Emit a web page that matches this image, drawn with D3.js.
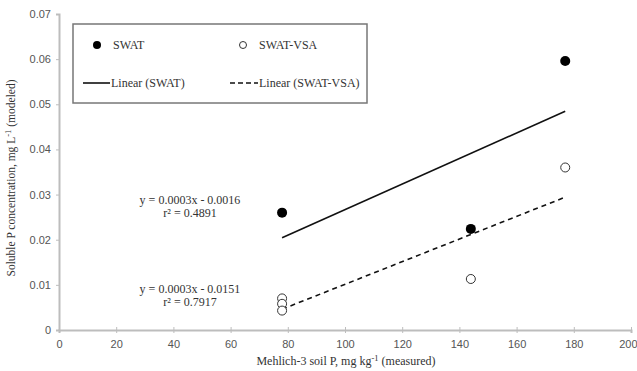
<!DOCTYPE html>
<html>
<head>
<meta charset="utf-8">
<script src="https://cdn.jsdelivr.net/npm/d3@7"></script>
<style>
  body { margin: 0; background: #fff; }
  svg { display: block; }
</style>
</head>
<body>
<svg id="chart" width="637" height="371"></svg>
<script>
// Data
const swatX = [78, 144, 177];
const swatY = [0.026, 0.0224, 0.0596];
const vsaX = [78, 78, 78, 144, 177];
const vsaY = [0.007, 0.0058, 0.0043, 0.0113, 0.036];
const xTicks = [0, 20, 40, 60, 80, 100, 120, 140, 160, 180, 200];
const yTicks = [0, 0.01, 0.02, 0.03, 0.04, 0.05, 0.06, 0.07];
const eqSwat = ['y = 0.0003x - 0.0016', 'r\u00b2 = 0.4891'];
const eqVsa = ['y = 0.0003x - 0.0151', 'r\u00b2 = 0.7917'];

const svg = d3.select('#chart');
const margin = {top: 14, right: 6, bottom: 41, left: 59};
const width = 637, height = 371;
const serif = '"Liberation Serif", "Times New Roman", serif';
const sans = '"Liberation Sans", Arial, sans-serif';

const x = d3.scaleLinear().domain([0, 200]).range([margin.left, width - margin.right]);
const y = d3.scaleLinear().domain([0, 0.07]).range([height - margin.bottom, margin.top]);

// least squares trend line, drawn over the data range
function fit(xs, ys) {
  const mx = d3.mean(xs), my = d3.mean(ys);
  let sxy = 0, sxx = 0;
  xs.forEach((v, i) => { sxy += (v - mx) * (ys[i] - my); sxx += (v - mx) ** 2; });
  const b = sxy / sxx, a = my - b * mx;
  const x0 = d3.min(xs), x1 = d3.max(xs);
  return [[x0, a + b * x0], [x1, a + b * x1]];
}

// Axes
const xAxis = svg.append('g')
  .attr('transform', `translate(0, ${y(0)})`)
  .call(d3.axisBottom(x).tickValues(xTicks).tickSize(3).tickFormat(d3.format('d')));
const yAxis = svg.append('g')
  .attr('transform', `translate(${x(0)}, 0)`)
  .call(d3.axisLeft(y).tickValues(yTicks).tickSize(3).tickFormat(d => d === 0 ? '0' : d3.format('.2f')(d)));

[xAxis, yAxis].forEach(g => {
  g.select('.domain').attr('stroke', '#bdbdbd').attr('stroke-width', 2);
  g.selectAll('.tick line').attr('stroke', '#bdbdbd').attr('stroke-width', 1);
  g.selectAll('.tick text').attr('fill', '#555').style('font-family', sans).style('font-size', '11px');
});
xAxis.selectAll('.tick line').attr('y1', -3);
xAxis.selectAll('.tick text').attr('dy', '1.05em');
// last label sits right at the window edge
xAxis.selectAll('.tick text').filter(d => d === 200).attr('text-anchor', 'end').attr('dx', 6);
yAxis.selectAll('.tick text').attr('dx', '-2');

// Trend lines
const line = d3.line().x(d => x(d[0])).y(d => y(d[1]));
svg.append('path').attr('d', line(fit(swatX, swatY)))
  .attr('fill', 'none').attr('stroke', '#111').attr('stroke-width', 1.6);
svg.append('path').attr('d', line(fit(vsaX, vsaY)))
  .attr('fill', 'none').attr('stroke', '#111').attr('stroke-width', 1.6)
  .attr('stroke-dasharray', '5,4');

// Points
svg.selectAll('.vsa').data(vsaX.map((v, i) => [v, vsaY[i]])).enter()
  .append('circle').attr('class', 'vsa')
  .attr('cx', d => x(d[0])).attr('cy', d => y(d[1])).attr('r', 4.5)
  .attr('fill', '#fff').attr('stroke', '#333').attr('stroke-width', 1);
svg.selectAll('.swat').data(swatX.map((v, i) => [v, swatY[i]])).enter()
  .append('circle').attr('class', 'swat')
  .attr('cx', d => x(d[0])).attr('cy', d => y(d[1])).attr('r', 5)
  .attr('fill', '#000');

// Equations
function equation(lines, cx, cy) {
  svg.append('text')
    .attr('x', cx).attr('y', cy)
    .attr('text-anchor', 'middle')
    .style('font-family', serif).style('font-size', '12px').attr('fill', '#333')
    .selectAll('tspan').data(lines).enter().append('tspan')
    .attr('x', cx).attr('dy', (d, i) => i ? 13 : 0)
    .text(d => d);
}
equation(eqSwat, 190, 204);
equation(eqVsa, 190, 293);

// Legend
const legend = svg.append('g');
legend.append('rect').attr('x', 73).attr('y', 24).attr('width', 294).attr('height', 79)
  .attr('fill', '#fff').attr('stroke', '#777').attr('stroke-width', 1.5);
legend.append('circle').attr('cx', 97).attr('cy', 45).attr('r', 4).attr('fill', '#000');
legend.append('circle').attr('cx', 243).attr('cy', 45).attr('r', 3.5)
  .attr('fill', '#fff').attr('stroke', '#333');
legend.append('line').attr('x1', 83).attr('x2', 110).attr('y1', 83).attr('y2', 83)
  .attr('stroke', '#111').attr('stroke-width', 1.6);
legend.append('line').attr('x1', 230).attr('x2', 258).attr('y1', 83).attr('y2', 83)
  .attr('stroke', '#111').attr('stroke-width', 1.6).attr('stroke-dasharray', '5,3');
const legendText = [['SWAT', 113, 49], ['SWAT-VSA', 259, 49], ['Linear (SWAT)', 111, 87], ['Linear (SWAT-VSA)', 259, 87]];
legend.selectAll('.lt').data(legendText).enter().append('text')
  .attr('x', d => d[1]).attr('y', d => d[2])
  .style('font-family', serif).style('font-size', '12px').attr('fill', '#333')
  .text(d => d[0]);

// Axis titles
const xTitle = svg.append('text')
  .attr('x', 346).attr('y', 365).attr('text-anchor', 'middle')
  .style('font-family', serif).style('font-size', '12px').attr('fill', '#333');
xTitle.append('tspan').text('Mehlich-3 soil P, mg kg');
xTitle.append('tspan').attr('dy', -4).style('font-size', '8.5px').text('-1');
xTitle.append('tspan').attr('dy', 4).text(' (measured)');

const yTitle = svg.append('text')
  .attr('transform', 'translate(15, 178) rotate(-90)').attr('text-anchor', 'middle')
  .style('font-family', serif).style('font-size', '11.5px').attr('fill', '#333');
yTitle.append('tspan').text('Soluble P concentration, mg L');
yTitle.append('tspan').attr('dy', -4).style('font-size', '8.5px').text('-1');
yTitle.append('tspan').attr('dy', 4).text(' (modeled)');
</script>
</body>
</html>
